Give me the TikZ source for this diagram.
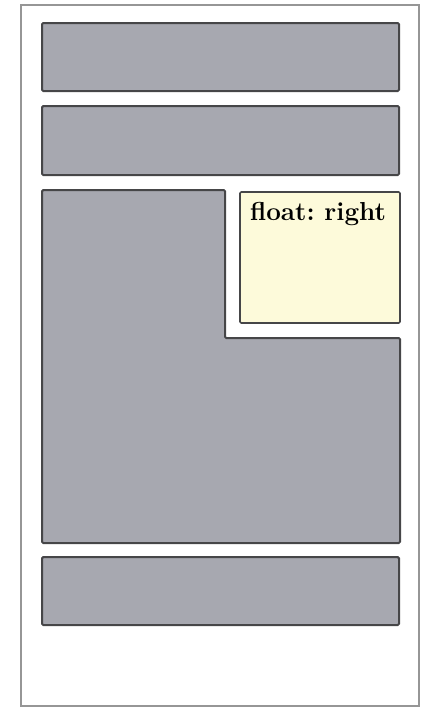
\documentclass[tikz,border=0pt]{standalone}
\usepackage{tikz}
\usetikzlibrary{positioning}
\definecolor{blockgray}{RGB}{167,168,176}
\definecolor{floatyellow}{RGB}{253,250,218}
\definecolor{edgegray}{RGB}{70,70,72}
\definecolor{framegray}{RGB}{150,150,150}
\tikzstyle{block} = [draw=edgegray,line width=1.5pt,fill=blockgray,rounded corners=1pt]
\tikzstyle{floatbox} = [draw=edgegray,line width=1.2pt,fill=floatyellow,rounded corners=1pt]

\begin{document}
\begin{tikzpicture}[x=0.75pt,y=-0.75pt]
	\useasboundingbox (0,0) rectangle (425,707);
	\draw[framegray,line width=1.8pt] (21,5) rectangle (419,706);
	\draw[block] (42,23) rectangle (399,91);
	\draw[block] (42,106) rectangle (399,175);
	\draw[block] (42,190) -- (225,190) -- (225,338) -- (400,338) -- (400,543) -- (42,543) -- cycle;
	\draw[floatbox] (240,192) rectangle (400,323);
	\node[anchor=base,font=\fontsize{19.5}{21}\selectfont\bfseries\frenchspacing] (fr) at (318,220) {float: right};
	\draw[block] (42,557) rectangle (399,625);
\end{tikzpicture}
\end{document}
